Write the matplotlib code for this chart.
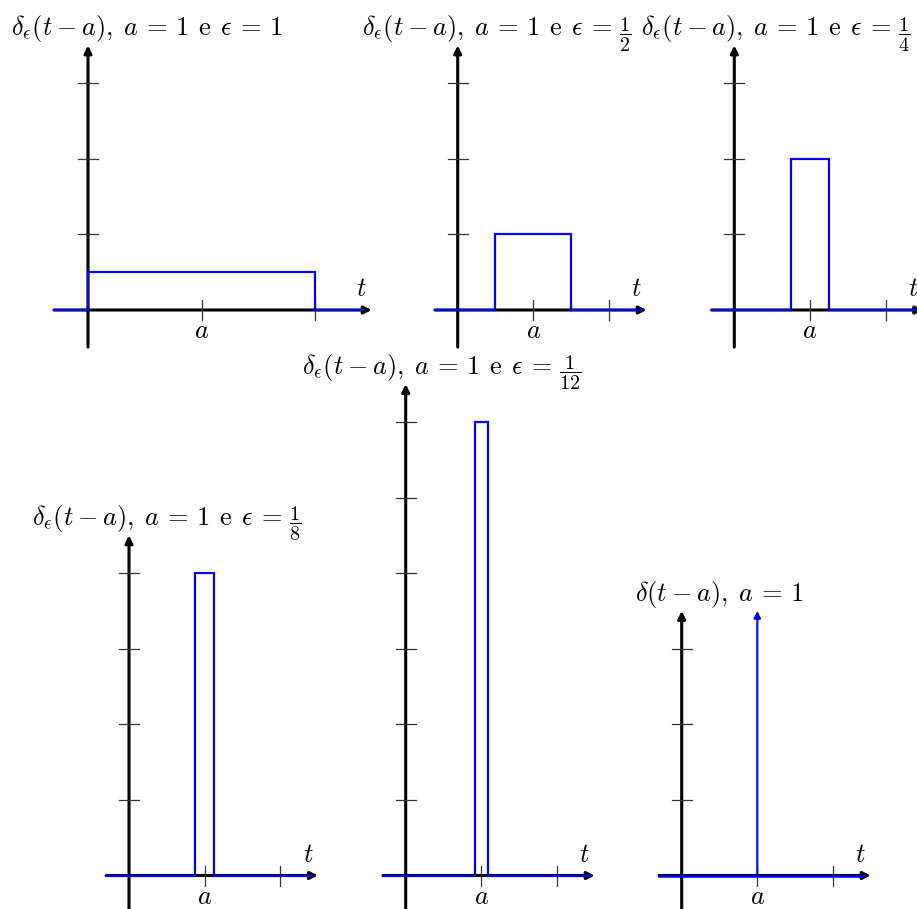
import matplotlib
matplotlib.use("Agg")
import matplotlib.pyplot as plt

plt.rcParams["mathtext.fontset"] = "cm"
plt.rcParams["font.family"] = "serif"
plt.rcParams["font.serif"] = ["DejaVu Serif"]

W, H = 917, 909
FS = 19

# pulse centre and widths (half-widths epsilon) for the five approximations
a = 1.0
eps = [1, 1 / 2, 1 / 4, 1 / 8, 1 / 12]
eps_num = ["1", "1", "1", "1", "1"]
eps_den = [None, "2", "4", "8", "12"]
heights = [1 / (2 * e) for e in eps]
n_yticks = [3, 3, 3, 4, 6, 3]
delta_height = 3.5
x_ticks = [1, 2]

# panel layout: origin in pixels (from top-left), pixels per unit along t
origins = [(88, 310), (457.7, 310), (734.3, 310),
           (129, 875.5), (405.7, 875.5), (681.7, 875.5)]
x_scale = [113.5, 75.6, 75.6, 75.6, 75.6, 75.6]
y_scale = 75.6
title_dx = [-77, -96, -93, -97, -104, -47]

T_MIN, T_MAX = -0.3, 2.5
Y_MIN = -0.49

fig = plt.figure(figsize=(W / 100, H / 100), dpi=100)
fig.patch.set_facecolor("white")


def make_axes(i, ymax):
    ox, oy = origins[i]
    sx = x_scale[i]
    xlo, xhi = -0.6, 2.7
    ylo, yhi = -0.6, ymax + 0.2
    left = (ox + xlo * sx) / W
    bottom = (H - (oy - ylo * y_scale)) / H
    ax = fig.add_axes([left, bottom, (xhi - xlo) * sx / W, (yhi - ylo) * y_scale / H])
    ax.set_xlim(xlo, xhi)
    ax.set_ylim(ylo, yhi)
    ax.axis("off")
    return ax


def draw_frame(ax, i, ymax, title):
    sx = x_scale[i]
    arrow = dict(arrowstyle="-|>", lw=2.2, color="black", mutation_scale=11,
                 shrinkA=0, shrinkB=0)
    ax.annotate("", xy=(T_MAX, 0), xytext=(T_MIN, 0), arrowprops=arrow,
                annotation_clip=False, zorder=1)
    ax.annotate("", xy=(0, ymax), xytext=(0, Y_MIN), arrowprops=arrow,
                annotation_clip=False, zorder=1)
    # tick marks, 10 px each side of the axes
    for xt in x_ticks:
        ax.plot([xt, xt], [-10 / y_scale, 10 / y_scale], color="#333333",
                lw=0.9, zorder=1, clip_on=False)
    for k in range(1, n_yticks[i] + 1):
        ax.plot([-10 / sx, 10 / sx], [k, k], color="#333333", lw=0.9,
                zorder=1, clip_on=False)
    ax.annotate(r"$a$", xy=(a, 0), xytext=(0, -28), textcoords="offset pixels",
                ha="center", va="baseline", fontsize=FS)
    ax.annotate(r"$t$", xy=(T_MAX, 0), xytext=(-10, 14), textcoords="offset pixels",
                ha="center", va="baseline", fontsize=FS, annotation_clip=False)
    return ax.annotate(title, xy=(0, ymax), xytext=(title_dx[i], 10),
                       textcoords="offset pixels", ha="left", va="baseline",
                       fontsize=FS, annotation_clip=False)


for i, e in enumerate(eps):
    ymax = n_yticks[i] + 0.5
    ax = make_axes(i, ymax)
    title = r"$\delta_\epsilon(t-a),\; a\,=\,1\;\, \mathrm{e}\;\, \epsilon\,=\,"
    if eps_den[i] is None:
        title += eps_num[i] + "$"
    else:
        title += "$"
    txt = draw_frame(ax, i, ymax, title)
    if eps_den[i] is not None:
        frac = r"$\dfrac{%s}{%s}$" % (eps_num[i], eps_den[i])
        ax.annotate(frac, xy=(1, 0), xycoords=txt, xytext=(7, 10),
                    textcoords="offset pixels", ha="left", va="center",
                    fontsize=FS * 0.76, annotation_clip=False)
    h = heights[i]
    ts = [T_MIN, a - e, a - e, a + e, a + e, T_MAX - 0.08]
    ys = [0, 0, h, h, 0, 0]
    ax.plot(ts, ys, color="#0000ff", lw=1.6, zorder=2, clip_on=False,
            solid_joinstyle="miter")

# ideal impulse
ax = make_axes(5, 3.5)
draw_frame(ax, 5, 3.5, r"$\delta(t-a),\; a\,=\,1$")
ax.plot([T_MIN, T_MAX - 0.08], [0, 0], color="#0000ff", lw=1.8, zorder=2,
        clip_on=False)
ax.annotate("", xy=(a, delta_height), xytext=(a, 0),
            arrowprops=dict(arrowstyle="-|>", lw=1.5, color="#0000ff",
                            mutation_scale=10, shrinkA=0, shrinkB=0),
            annotation_clip=False, zorder=2)

fig.savefig("out.png", dpi=100, facecolor="white")
